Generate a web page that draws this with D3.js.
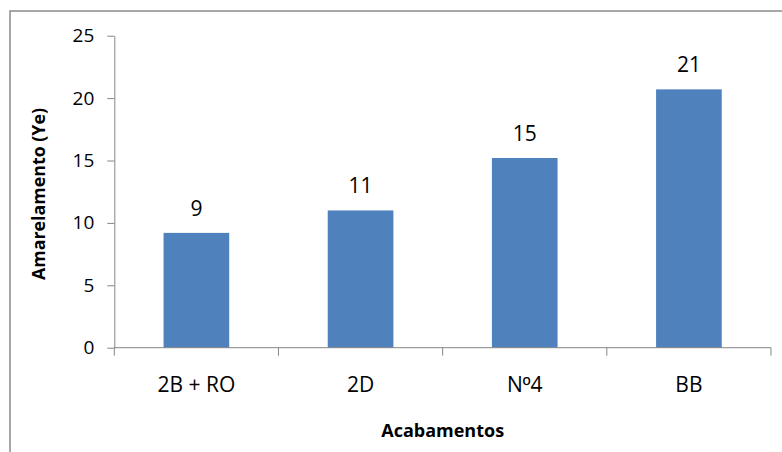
<!DOCTYPE html>
<html>
<head>
<meta charset="utf-8">
<script src="https://cdn.jsdelivr.net/npm/d3@7"></script>
<style>
  html, body { margin: 0; padding: 0; background: #fff; }
  svg { display: block; }
  text { font-family: "Open Sans", sans-serif; fill: #000; }
</style>
</head>
<body>
<svg id="chart" width="782" height="452"></svg>
<script>
// Amarelamento (Ye) por acabamento
const categories = ["2B + RO", "2D", "Nº4", "BB"];
const values = [9.2, 11.0, 15.2, 20.7];
const yTicks = [0, 5, 10, 15, 20, 25];
const xTitle = "Acabamentos";
const yTitle = "Amarelamento (Ye)";

const svg = d3.select("#chart");
const plot = { left: 114.3, right: 771, top: 35.7, bottom: 347.7 };
const axisColor = "#868686";
const barColor = "#4F81BD";

// chart frame
svg.append("rect")
  .attr("x", 10).attr("y", 11)
  .attr("width", 820).attr("height", 500)
  .attr("fill", "none")
  .attr("stroke", "#8a8a8a")
  .attr("stroke-width", 1.5);

const x = d3.scaleBand().domain(categories).range([plot.left, plot.right]).padding(0);
const y = d3.scaleLinear().domain([0, 25]).range([plot.bottom, plot.top]);

// y axis
const yAxis = svg.append("g")
  .attr("transform", `translate(${plot.left},0)`)
  .call(d3.axisLeft(y).tickValues(yTicks).tickSize(7).tickSizeOuter(0).tickPadding(13));
yAxis.selectAll("path, line").attr("stroke", axisColor);
yAxis.selectAll("text")
  .style("font-family", "'Open Sans', sans-serif")
  .style("font-size", "19px")
  .attr("fill", "#000");

// bars (gap width 150%)
const barW = x.bandwidth() * 0.4;
svg.append("g").selectAll("rect")
  .data(categories.map((c, i) => ({ c, v: values[i] })))
  .join("rect")
  .attr("x", d => x(d.c) + (x.bandwidth() - barW) / 2)
  .attr("y", d => y(d.v))
  .attr("width", barW)
  .attr("height", d => y(0) - y(d.v))
  .attr("fill", barColor);

// x axis line and category boundary ticks
const xAxis = svg.append("g");
xAxis.append("line")
  .attr("x1", plot.left).attr("x2", plot.right)
  .attr("y1", y(0)).attr("y2", y(0))
  .attr("stroke", axisColor);
const bounds = categories.map(c => x(c)).concat([x.range()[1]]);
xAxis.selectAll("line.tick")
  .data(bounds)
  .join("line")
  .attr("class", "tick")
  .attr("x1", d => d).attr("x2", d => d)
  .attr("y1", y(0)).attr("y2", y(0) + 8)
  .attr("stroke", axisColor);

// category labels; the ordinal sign uses a face with the underlined form
svg.append("g").selectAll("text")
  .data(categories)
  .join("text")
  .attr("x", d => x(d) + x.bandwidth() / 2)
  .attr("y", y(0) + 44)
  .attr("text-anchor", "middle")
  .style("font-size", "21px")
  .each(function (d) {
    const t = d3.select(this);
    d.split(/(º)/).filter(s => s.length).forEach(part => {
      const span = t.append("tspan").text(part);
      if (part === "º") span.style("font-family", "'Liberation Sans', sans-serif");
    });
  });

// value labels
const fmt = d3.format(".0f");
svg.append("g").selectAll("text")
  .data(categories.map((c, i) => ({ c, v: values[i] })))
  .join("text")
  .attr("x", d => x(d.c) + x.bandwidth() / 2)
  .attr("y", d => y(d.v) - 17)
  .attr("text-anchor", "middle")
  .style("font-size", "21px")
  .text(d => fmt(d.v));

// axis titles
svg.append("text")
  .attr("x", (plot.left + plot.right) / 2)
  .attr("y", 437)
  .attr("text-anchor", "middle")
  .style("font-size", "18px")
  .style("font-weight", "bold")
  .text(xTitle);

svg.append("text")
  .attr("transform", `translate(44.5,194) rotate(-90)`)
  .attr("text-anchor", "middle")
  .style("font-size", "17.8px")
  .style("font-weight", "bold")
  .text(yTitle);
</script>
</body>
</html>
